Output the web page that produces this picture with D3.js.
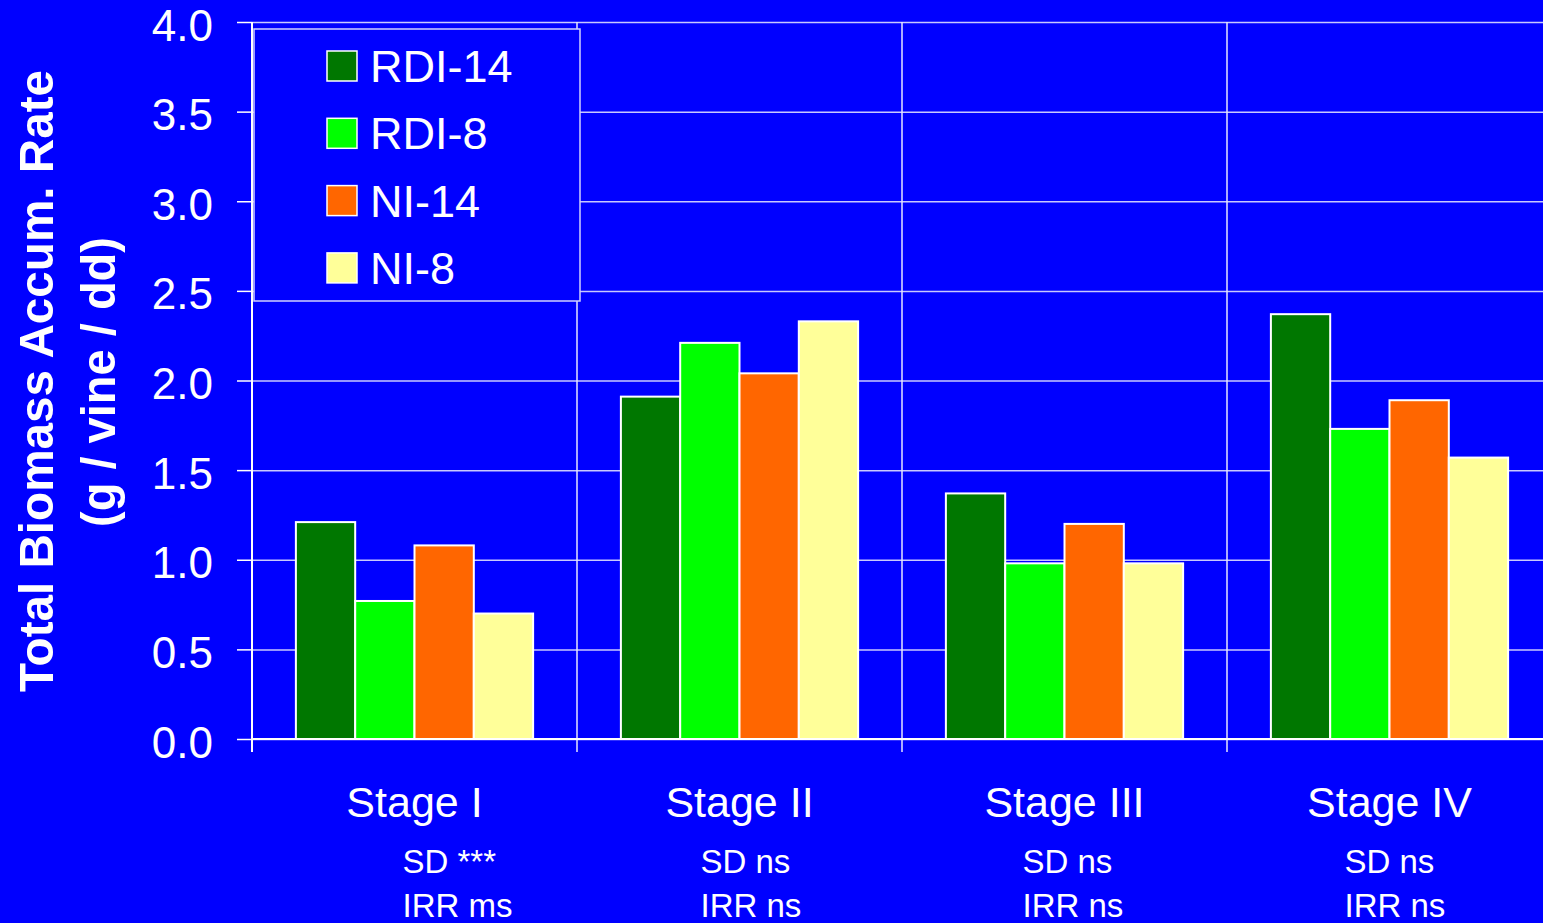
<!DOCTYPE html>
<html>
<head>
<meta charset="utf-8">
<script src="https://cdn.jsdelivr.net/npm/d3@7/dist/d3.min.js"></script>
<style>
  html, body { margin: 0; padding: 0; background: #0000ff; overflow: hidden; }
  svg { display: block; font-family: "Liberation Sans", Arial, sans-serif; }
</style>
</head>
<body>
<svg id="chart"></svg>
<script>
// ── data ──────────────────────────────────────────────
const stages = ['Stage I', 'Stage II', 'Stage III', 'Stage IV'];
const series = ['RDI-14', 'RDI-8', 'NI-14', 'NI-8'];
const rdi14 = [1.21, 1.91, 1.37, 2.37];
const rdi8  = [0.77, 2.21, 0.98, 1.73];
const ni14  = [1.08, 2.04, 1.20, 1.89];
const ni8   = [0.70, 2.33, 0.98, 1.57];
const sdNotes  = ['SD ***', 'SD ns', 'SD ns', 'SD ns'];
const irrNotes = ['IRR ms', 'IRR ns', 'IRR ns', 'IRR ns'];
const yTicks = [0, 0.5, 1, 1.5, 2, 2.5, 3, 3.5, 4];
const colors = ['#007700', '#00ff00', '#ff6600', '#ffff99'];

const values = [rdi14, rdi8, ni14, ni8];

// ── layout ────────────────────────────────────────────
const W = 1543, H = 923;
const M = { l: 252, r: 1552, t: 22, b: 739 };
const noteShift = [-12, -39, -42, -45]; // left edge of notes vs. stage centre

const svg = d3.select('#chart').attr('width', W).attr('height', H);
svg.append('rect').attr('width', W).attr('height', H).attr('fill', '#0000ff');

const x0 = d3.scaleBand().domain(stages).range([M.l, M.r]);
const x1 = d3.scaleBand().domain(series).range([0, x0.bandwidth()]).paddingOuter(0.74);
const y = d3.scaleLinear().domain([0, 4]).range([M.b, M.t]);

// horizontal grid
const grid = svg.append('g').attr('transform', `translate(${M.l},0)`)
  .call(d3.axisLeft(y).tickValues(yTicks).tickSize(-(M.r - M.l)).tickFormat(''));
grid.select('.domain').remove();
grid.selectAll('line').attr('stroke', '#c8c8ff').attr('stroke-width', 1.5);

// vertical separators (extend below axis as tick marks)
const seps = stages.slice(1).map(s => x0(s));
svg.append('g').selectAll('line').data(seps).join('line')
  .attr('x1', d => d).attr('x2', d => d)
  .attr('y1', M.t).attr('y2', M.b + 13)
  .attr('stroke', '#e6e6ff').attr('stroke-width', 1.5);

// bars
const rows = stages.map((s, i) => ({ stage: s, vals: series.map((k, j) => ({ key: k, j, v: values[j][i] })) }));
const grp = svg.append('g').selectAll('g').data(rows).join('g')
  .attr('transform', d => `translate(${x0(d.stage)},0)`);
grp.selectAll('rect').data(d => d.vals).join('rect')
  .attr('x', d => x1(d.key))
  .attr('y', d => y(d.v))
  .attr('width', x1.bandwidth())
  .attr('height', d => y(0) - y(d.v))
  .attr('fill', d => colors[d.j])
  .attr('stroke', '#ffffff')
  .attr('stroke-width', 2);

// y axis
const yAxis = svg.append('g').attr('transform', `translate(${M.l},0)`)
  .call(d3.axisLeft(y).tickValues(yTicks).tickSize(15).tickPadding(24).tickFormat(d3.format('.1f')));
yAxis.select('.domain').remove();
yAxis.selectAll('line').attr('stroke', '#ffffff').attr('stroke-width', 1.5);
yAxis.selectAll('text').attr('fill', '#ffffff').attr('font-size', 44)
  .attr('font-family', '"Liberation Sans", Arial, sans-serif').attr('dy', '0.41em');

// axis lines
svg.append('line').attr('x1', M.l).attr('x2', M.l).attr('y1', M.t).attr('y2', M.b + 13)
  .attr('stroke', '#ffffff').attr('stroke-width', 2);
svg.append('line').attr('x1', M.l).attr('x2', W).attr('y1', M.b).attr('y2', M.b)
  .attr('stroke', '#ffffff').attr('stroke-width', 2);

// stage labels + notes
const cats = svg.append('g').selectAll('g').data(stages).join('g');
cats.append('text')
  .attr('x', d => x0(d) + x0.bandwidth() / 2).attr('y', 817)
  .attr('text-anchor', 'middle').attr('fill', '#fff').attr('font-size', 43)
  .text(d => d);
cats.append('text')
  .attr('x', (d, i) => x0(d) + x0.bandwidth() / 2 + noteShift[i]).attr('y', 873)
  .attr('fill', '#fff').attr('font-size', 33)
  .text((d, i) => sdNotes[i]);
cats.append('text')
  .attr('x', (d, i) => x0(d) + x0.bandwidth() / 2 + noteShift[i]).attr('y', 917)
  .attr('fill', '#fff').attr('font-size', 33)
  .text((d, i) => irrNotes[i]);

// y title
const yt = svg.append('g').attr('transform', 'rotate(-90)');
yt.append('text').attr('x', -381).attr('y', 53)
  .attr('text-anchor', 'middle').attr('fill', '#fff').attr('font-size', 49).attr('font-weight', 700)
  .attr('textLength', 622).attr('lengthAdjust', 'spacingAndGlyphs')
  .text('Total Biomass Accum. Rate');
yt.append('text').attr('x', -382).attr('y', 115)
  .attr('text-anchor', 'middle').attr('fill', '#fff').attr('font-size', 49).attr('font-weight', 700)
  .attr('textLength', 290).attr('lengthAdjust', 'spacingAndGlyphs')
  .text('(g / vine / dd)');

// legend
const lg = svg.append('g').attr('transform', 'translate(254,29)');
lg.append('rect').attr('width', 326).attr('height', 272)
  .attr('fill', '#0000ff').attr('stroke', '#d0d0ff').attr('stroke-width', 1.5);
const items = lg.selectAll('g.item').data(series).join('g').attr('class', 'item')
  .attr('transform', (d, i) => `translate(73,${37 + i * 67.3})`);
items.append('rect').attr('x', 0).attr('y', -15).attr('width', 30).attr('height', 30)
  .attr('fill', (d, i) => colors[i]).attr('stroke', '#ffffff').attr('stroke-width', 1.5);
items.append('text').attr('x', 43).attr('y', 16)
  .attr('fill', '#fff').attr('font-size', 45).text(d => d);
</script>
</body>
</html>
